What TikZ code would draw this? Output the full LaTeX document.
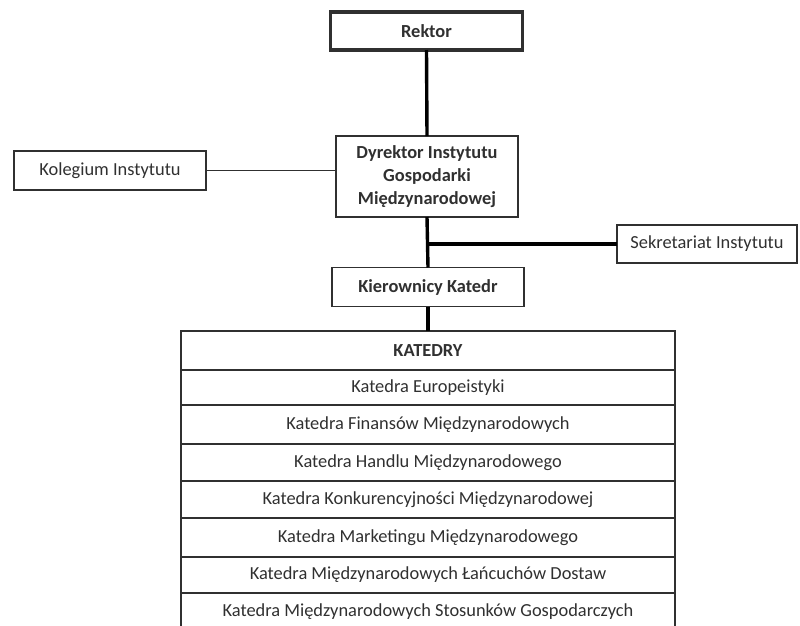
\documentclass[tikz,border=0pt]{standalone}
\usepackage{fontspec}
\setmainfont{Carlito}
\definecolor{ink}{HTML}{303030}
\begin{document}
\begin{tikzpicture}[x=1pt,y=-1pt,
  every node/.style={font=\fontsize{18.4}{23}\selectfont, text=ink, inner sep=0pt, outer sep=0pt, align=center},
  box/.style={draw=ink, line width=1.6pt, fill=white, minimum height=38pt},
  bigbox/.style={box, line width=3.2pt},
  row/.style={draw=ink, line width=1.6pt, minimum width=494pt, minimum height=37pt, anchor=north},
  trunk/.style={draw=black, line width=3.4pt},
  thin/.style={draw=ink, line width=1.6pt}]
\useasboundingbox (0,0) rectangle (800,625);

% top of the hierarchy
\node[bigbox, minimum width=192pt] (rektor) at (426.5,31) {\bfseries Rektor};
\node[box, minimum width=182pt, minimum height=81pt] (dyr) at (427,176.5)
  {\bfseries Dyrektor Instytutu\\\bfseries Gospodarki\\\bfseries Międzynarodowej};
\node[box, minimum width=192pt, minimum height=39pt] (kol) at (110,170.5) {Kolegium Instytutu};
\node[box, minimum width=180pt] (sek) at (707,244) {Sekretariat Instytutu};
\node[box, minimum width=192pt, minimum height=39pt] (kier) at (428,287) {\bfseries Kierownicy Katedr};

% list of departments
\node[row, minimum height=39pt] (t0) at (428,331) {\bfseries KATEDRY};
\node[row, minimum height=35pt] (t1) at (t0.south) {Katedra Europeistyki};
\node[row, minimum height=39pt] (t2) at (t1.south) {Katedra Finansów Międzynarodowych};
\node[row] (t3) at (t2.south) {Katedra Handlu Międzynarodowego};
\node[row] (t4) at (t3.south) {Katedra Konkurencyjności Międzynarodowej};
\node[row, minimum height=39pt] (t5) at (t4.south) {Katedra Marketingu Międzynarodowego};
\node[row, minimum height=36pt] (t6) at (t5.south) {Katedra Międzynarodowych Łańcuchów Dostaw};
\node[row, minimum height=37pt] (t7) at (t6.south) {Katedra Międzynarodowych Stosunków Gospodarczych};

% connectors
\coordinate (br) at (dyr.south |- sek.west);
\draw[trunk] (rektor.south) -- (dyr.north);
\draw[trunk] (dyr.south) -- (kier.north);
\draw[trunk] (br) -- (sek.west);
\draw[trunk] (kier.south) -- (kier.south |- t0.north);
\draw[thin] (kol.east) -- (kol.east -| dyr.west);
\end{tikzpicture}
\end{document}
